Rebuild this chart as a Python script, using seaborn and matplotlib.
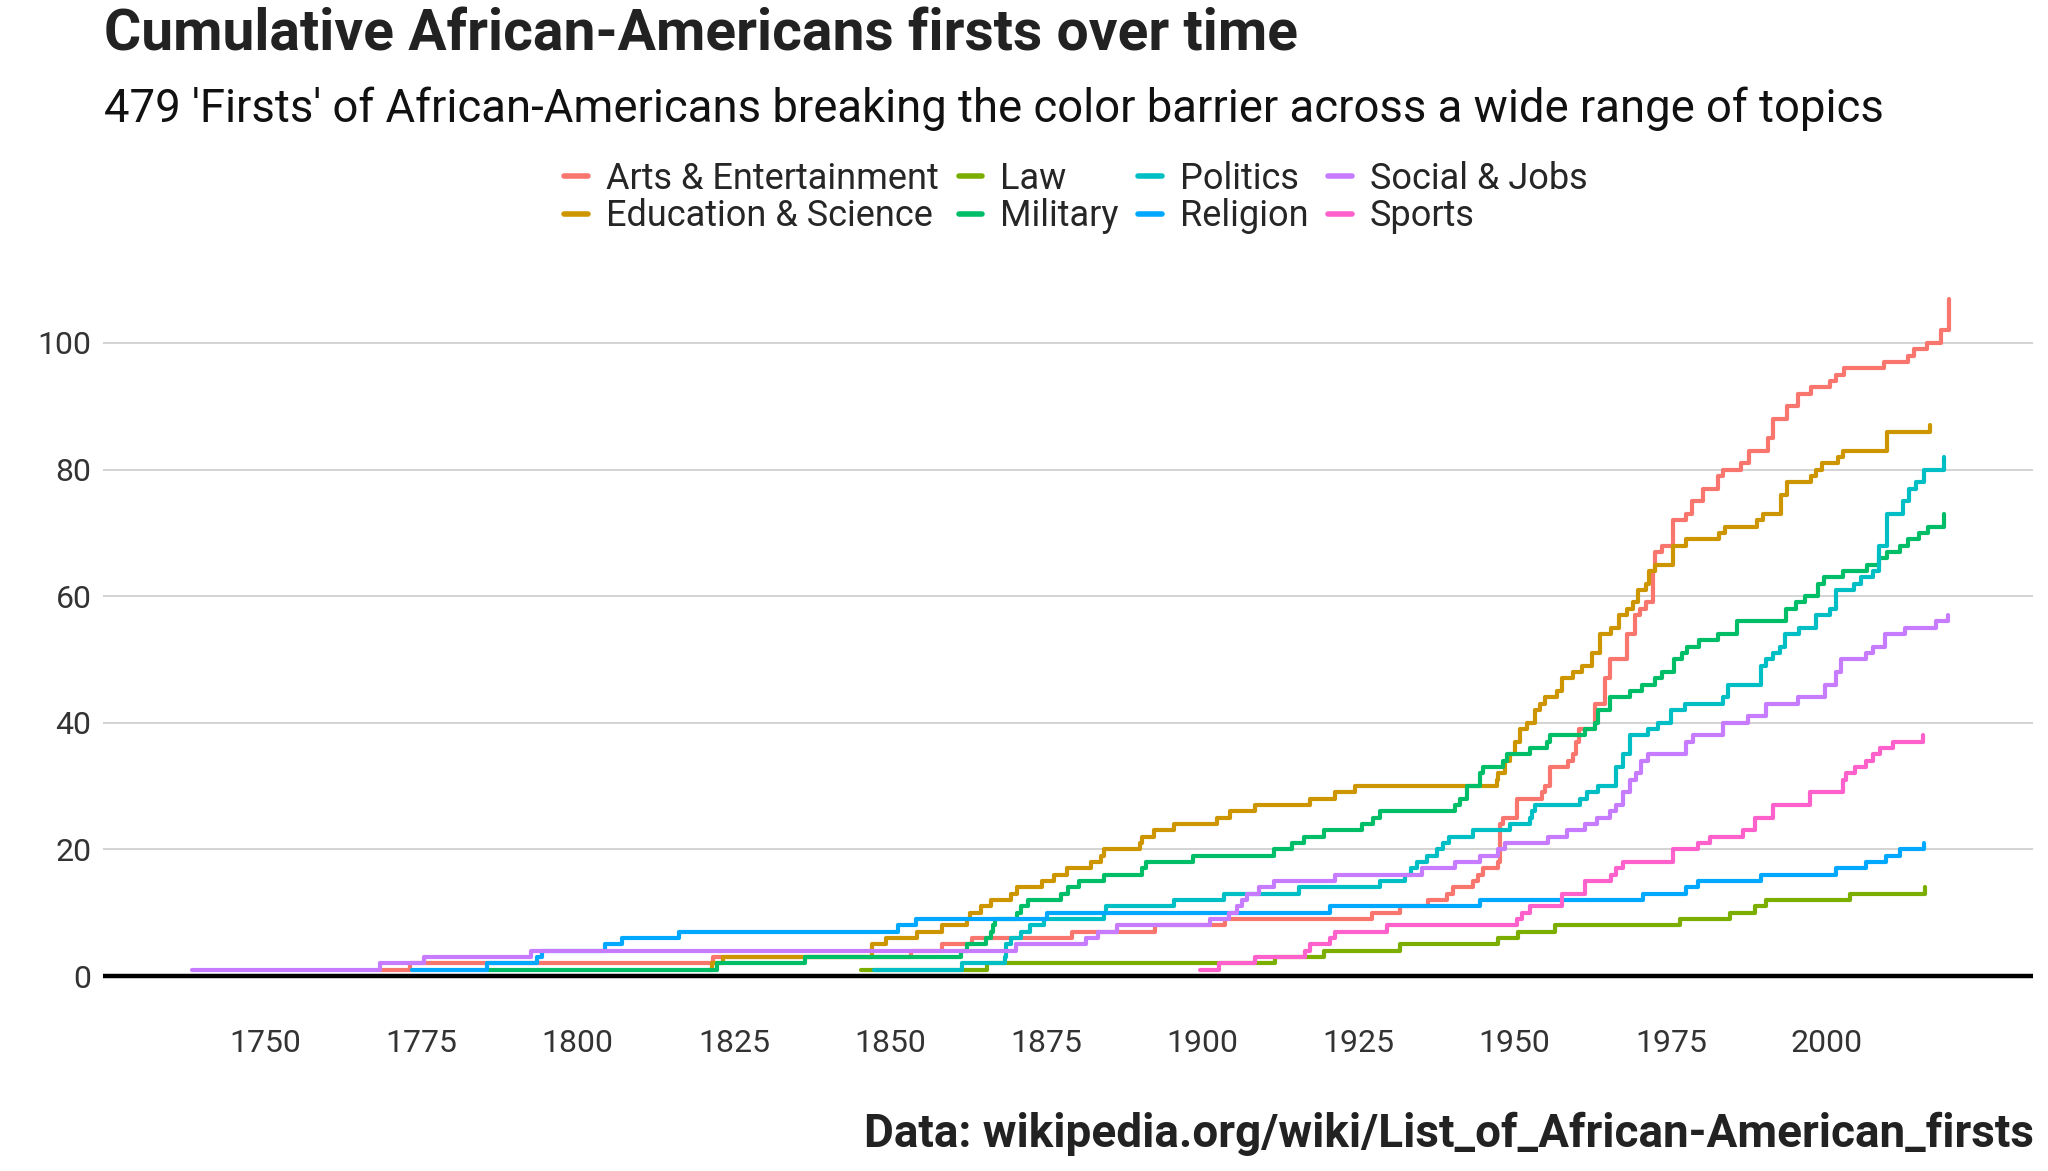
import pandas as pd
import matplotlib
matplotlib.use('Agg')
import matplotlib.pyplot as plt
import seaborn as sns
from matplotlib.lines import Line2D

# Categories in legend order and the ggplot hue colours
categories = ['Arts & Entertainment', 'Education & Science', 'Law', 'Military',
              'Politics', 'Religion', 'Social & Jobs', 'Sports']
colors = ['#F8766D', '#CD9600', '#7CAE00', '#00BE67',
          '#00BFC4', '#00A9FF', '#C77CFF', '#FF61CC']

# Step breakpoints: year of each jump and cumulative count after it
arts_years = [1768.4, 1773.2, 1821.7, 1853.3, 1858.3, 1863.1, 1879.1, 1892.4, 1903.6, 1927.1,
              1931.6, 1936.2, 1939.1, 1940.1, 1943.4, 1944.2, 1945.0, 1947.4, 1947.7, 1948.2,
              1950.3, 1954.3, 1954.8, 1955.6, 1958.6, 1959.4, 1959.8, 1960.3, 1962.8, 1964.5,
              1965.3, 1968.0, 1969.3, 1970.1, 1971.0, 1972.2, 1972.5, 1973.6, 1975.4, 1977.5,
              1978.4, 1980.1, 1982.6, 1983.4, 1986.2, 1987.5, 1990.5, 1991.4, 1993.6, 1995.3,
              1997.5, 2000.5, 2001.4, 2002.7, 2009.1, 2013.0, 2013.9, 2016.0, 2018.2, 2019.5]
arts_counts = [1, 2, 3, 4, 5, 6, 7, 8, 9, 10,
               11, 12, 13, 14, 15, 16, 17, 18, 24, 25,
               28, 29, 30, 33, 34, 35, 37, 39, 43, 47,
               50, 54, 57, 58, 59, 64, 67, 68, 72, 73,
               75, 77, 79, 80, 81, 83, 85, 88, 90, 92,
               93, 94, 95, 96, 97, 98, 99, 100, 102, 107]

edu_years = [1821.0, 1821.5, 1823.2, 1847.1, 1849.3, 1854.4, 1858.3, 1862.3, 1862.8, 1864.5,
             1866.2, 1869.3, 1870.4, 1874.3, 1876.3, 1878.3, 1882.2, 1883.8, 1884.2, 1890.1,
             1890.3, 1892.3, 1895.4, 1902.4, 1904.4, 1908.4, 1917.2, 1921.2, 1924.4, 1947.2,
             1947.4, 1948.5, 1949.3, 1950.1, 1950.9, 1951.9, 1953.3, 1954.1, 1954.9, 1956.7,
             1957.5, 1959.4, 1960.7, 1962.4, 1963.7, 1965.4, 1966.7, 1968.0, 1968.9, 1969.8,
             1971.1, 1971.5, 1972.4, 1975.4, 1977.5, 1982.7, 1983.6, 1988.8, 1989.7, 1992.7,
             1993.6, 1997.5, 1998.3, 1999.2, 2001.8, 2002.6, 2009.6, 2016.5]
edu_counts = [1, 2, 3, 5, 6, 7, 8, 9, 10, 11,
              12, 13, 14, 15, 16, 17, 18, 19, 20, 21,
              22, 23, 24, 25, 26, 27, 28, 29, 30, 31,
              32, 34, 35, 37, 39, 40, 42, 43, 44, 45,
              47, 48, 49, 51, 54, 55, 57, 58, 59, 61,
              62, 64, 65, 68, 69, 70, 71, 72, 73, 76,
              78, 79, 80, 81, 82, 83, 86, 87]

law_years = [1845.4, 1865.6, 1911.6, 1919.4, 1931.6, 1947.4, 1950.6, 1956.5, 1976.5, 1984.5,
             1988.5, 1990.3, 2003.7, 2015.7]
law_counts = [1, 2, 3, 4, 5, 6, 7, 8, 9, 10, 11, 12, 13, 14]

military_years = [1785.5, 1822.3, 1836.4, 1861.4, 1862.3, 1865.4, 1866.2, 1866.5, 1866.8, 1870.4,
                  1871.0, 1872.1, 1877.4, 1878.5, 1880.2, 1884.2, 1890.3, 1891.0, 1898.5, 1911.4,
                  1914.3, 1916.2, 1919.4, 1925.5, 1927.4, 1928.4, 1940.4, 1941.2, 1942.3, 1944.5,
                  1945.0, 1948.2, 1948.7, 1952.5, 1955.1, 1955.7, 1961.3, 1962.9, 1963.4, 1965.3,
                  1968.5, 1970.4, 1972.5, 1973.6, 1975.5, 1976.8, 1977.6, 1979.5, 1982.5, 1985.6,
                  1993.4, 1995.1, 1996.5, 1998.5, 1999.5, 2002.6, 2006.4, 2008.3, 2009.6, 2011.7,
                  2013.0, 2014.8, 2016.1, 2018.7]
military_counts = [1, 2, 3, 4, 5, 6, 7, 8, 9, 10,
                   11, 12, 13, 14, 15, 16, 17, 18, 19, 20,
                   21, 22, 23, 24, 25, 26, 27, 28, 30, 32,
                   33, 34, 35, 36, 37, 38, 39, 40, 42, 44,
                   45, 46, 47, 48, 50, 51, 52, 53, 54, 56,
                   58, 59, 60, 62, 63, 64, 65, 66, 67, 68,
                   69, 70, 71, 73]

politics_years = [1847.5, 1861.5, 1868.4, 1868.5, 1868.6, 1869.3, 1871.0, 1872.4, 1874.6, 1884.2,
                  1884.5, 1895.4, 1903.4, 1915.4, 1928.4, 1932.4, 1933.4, 1934.3, 1936.0, 1937.5,
                  1938.5, 1939.5, 1943.4, 1949.3, 1952.5, 1952.8, 1953.2, 1960.5, 1961.5, 1963.4,
                  1966.3, 1967.4, 1968.5, 1971.4, 1973.0, 1975.1, 1977.3, 1983.4, 1984.2, 1989.5,
                  1990.3, 1991.4, 1992.5, 1993.3, 1995.5, 1998.3, 2000.5, 2001.5, 2004.4, 2005.5,
                  2007.4, 2008.3, 2009.6, 2012.2, 2013.2, 2014.3, 2015.6, 2018.7]
politics_counts = [1, 2, 3, 4, 5, 6, 7, 8, 9, 10,
                   11, 12, 13, 14, 15, 16, 17, 18, 19, 20,
                   21, 22, 23, 24, 25, 26, 27, 28, 29, 30,
                   33, 35, 38, 39, 40, 42, 43, 44, 46, 49,
                   50, 51, 52, 54, 55, 57, 58, 61, 62, 63,
                   64, 68, 73, 75, 77, 78, 80, 82]

religion_years = [1773.4, 1785.5, 1793.5, 1794.3, 1804.3, 1807.1, 1816.3, 1851.3, 1854.2, 1875.2,
                  1920.4, 1944.5, 1970.6, 1977.5, 1979.4, 1989.5, 2001.5, 2006.3, 2009.5, 2011.7,
                  2015.6]
religion_counts = [1, 2, 3, 4, 5, 6, 7, 8, 9, 10, 11, 12, 13, 14, 15, 16, 17, 18, 19, 20, 21]

social_years = [1738.3, 1768.3, 1775.4, 1792.5, 1870.1, 1881.4, 1883.3, 1886.4, 1901.3, 1904.2,
                1905.5, 1906.3, 1907.2, 1909.0, 1911.4, 1921.2, 1935.1, 1940.4, 1944.5, 1947.4,
                1948.5, 1955.4, 1958.3, 1961.2, 1963.1, 1965.3, 1966.3, 1967.4, 1968.5, 1969.5,
                1970.3, 1971.4, 1977.5, 1978.6, 1983.4, 1987.4, 1990.3, 1995.4, 1999.7, 2001.5,
                2002.3, 2006.3, 2007.4, 2009.3, 2012.5, 2017.5, 2019.4]
social_counts = [1, 2, 3, 4, 5, 6, 7, 8, 9, 10,
                 11, 12, 13, 14, 15, 16, 17, 18, 19, 20,
                 21, 22, 23, 24, 25, 26, 27, 29, 31, 32,
                 34, 35, 37, 38, 40, 41, 43, 44, 46, 48,
                 50, 51, 52, 54, 55, 56, 57]

sports_years = [1899.6, 1902.6, 1908.4, 1916.4, 1917.2, 1920.4, 1921.2, 1929.5, 1950.3, 1951.1,
                1952.4, 1957.5, 1961.3, 1965.5, 1966.3, 1967.4, 1975.4, 1979.4, 1981.3, 1986.6,
                1988.5, 1991.4, 1997.3, 2002.6, 2003.1, 2004.5, 2006.3, 2007.4, 2008.5, 2010.6,
                2015.4]
sports_counts = [1, 2, 3, 4, 5, 6, 7, 8, 9, 10,
                 11, 13, 15, 16, 17, 18, 20, 21, 22, 23,
                 25, 27, 29, 31, 32, 33, 34, 35, 36, 37,
                 38]

x_ticks = [1750, 1775, 1800, 1825, 1850, 1875, 1900, 1925, 1950, 1975, 2000]
y_ticks = [0, 20, 40, 60, 80, 100]

title = 'Cumulative African-Americans firsts over time'
subtitle = "479 'Firsts' of African-Americans breaking the color barrier across a wide range of topics"
caption = 'Data: wikipedia.org/wiki/List_of_African-American_firsts'


def build_frame():
    all_years = [arts_years, edu_years, law_years, military_years,
                 politics_years, religion_years, social_years, sports_years]
    all_counts = [arts_counts, edu_counts, law_counts, military_counts,
                  politics_counts, religion_counts, social_counts, sports_counts]
    frames = []
    for cat, yrs, cnts in zip(categories, all_years, all_counts):
        frames.append(pd.DataFrame({'year': yrs, 'n': cnts, 'category': cat}))
    return pd.concat(frames, ignore_index=True)


def main():
    df = build_frame()

    sns.set_theme(style='white')
    plt.rcParams['font.family'] = ['Roboto', 'DejaVu Sans']

    fig = plt.figure(figsize=(20.48, 11.71), dpi=100)
    ax = fig.add_axes([0.0501, 0.1376, 0.9428, 0.6363])

    ax.grid(axis='y', color='#cccccc', linewidth=1.2)
    ax.grid(axis='x', visible=False)
    ax.set_axisbelow(True)

    sns.lineplot(data=df, x='year', y='n', hue='category', hue_order=categories,
                 palette=colors, drawstyle='steps-post', linewidth=3.0,
                 estimator=None, sort=False, legend=False, ax=ax)
    ax.axhline(0, color='black', linewidth=3.2, zorder=1)

    ax.set_xlim(1723.95, 2033.05)
    ax.set_ylim(-5.35, 112.35)
    ax.set_xticks(x_ticks)
    ax.set_yticks(y_ticks)
    ax.set_xlabel('')
    ax.set_ylabel('')
    for side in ['top', 'right', 'bottom', 'left']:
        ax.spines[side].set_visible(False)
    ax.tick_params(axis='both', length=0, labelsize=23, labelcolor='#333333')
    ax.tick_params(axis='x', pad=14)
    ax.tick_params(axis='y', pad=8)

    handles = [Line2D([0], [0], color=c, linewidth=4) for c in colors]
    fig.legend(handles, categories, ncol=4, loc='center',
               bbox_to_anchor=(0.5254, 0.8313), frameon=False, fontsize=26,
               handlelength=0.65, handletextpad=0.5, columnspacing=0.55,
               labelspacing=0.05, borderpad=0)

    fig.text(0.0508, 0.9573, title, fontsize=41, fontweight='bold',
             color='#222222', ha='left', va='baseline')
    fig.text(0.0508, 0.8961, subtitle, fontsize=32.8, color='#111111',
             ha='left', va='baseline')
    fig.text(0.9932, 0.0207, caption, fontsize=33, fontweight='bold',
             color='#222222', ha='right', va='baseline')

    fig.savefig('out.png', dpi=100)
    plt.close(fig)


if __name__ == "__main__":
    main()
